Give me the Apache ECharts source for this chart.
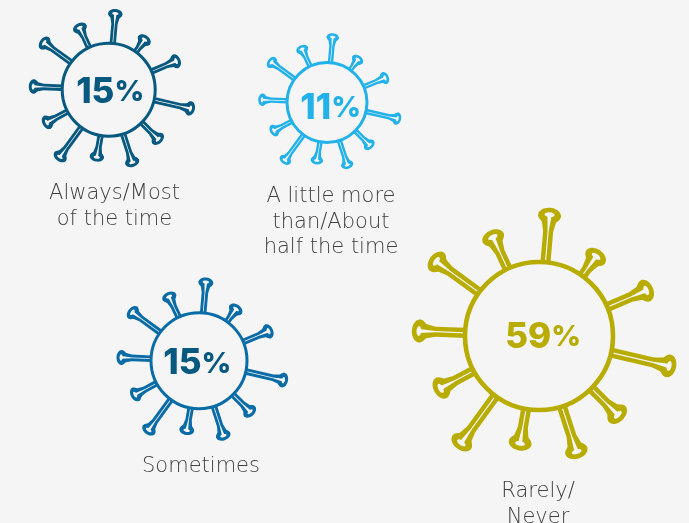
<!DOCTYPE html>
<html><head><meta charset="utf-8">
<style>html,body{margin:0;padding:0;background:#f5f5f5}#c{width:689px;height:523px}</style>
<script src="https://cdn.jsdelivr.net/npm/echarts@6/dist/echarts.min.js"></script>
</head><body><div id="c"></div>
<script>
const categories = ["Always/Most\nof the time", "A little more\nthan/About\nhalf the time", "Sometimes", "Rarely/\nNever"];
const shares = [15, 11, 15, 59];
const ringColors = ["#07597f", "#22b2e9", "#0a6ca6", "#b8ac00"];
const numberColors = ["#07597f", "#22b2e9", "#07597f", "#b8ac00"];
// virus layout (page px): centre x, centre y, radius, label centre x, label first-line y, number dx, number dy
const layout = [
  [108.7, 89.7, 46.5, 114.5, 193, 1.5, 2.7],
  [327, 102.5, 40, 331, 196, 3.7, 5.9],
  [199, 360.7, 48, 201, 465.5, -1.6, 3.2],
  [539, 336, 74, 538, 491, 4.2, 1.7]
];
// spikes: clockwise angle from up (deg), tip distance in radii
const spikeAngles = [5, 35.6, 67, 103, 135, 162, 190, 216, 242, 272.4, 306, 335];
const spikeLengths = [1.74, 1.42, 1.67, 1.9, 1.6, 1.74, 1.57, 1.88, 1.6, 1.72, 1.81, 1.57];
const BG = "#f5f5f5";

function spike(r, ang, len, color) {
  const R = r * len, hs = .068 * r, hh = .155 * r, neck = R - .32 * r, mid = R - .2 * r, head = R - .105 * r;
  return {
    type: "group", rotation: -ang * Math.PI / 180,
    children: [
      {type:"polygon", shape:{points:[[-hs,-r],[-hs,-neck],[-hs*1.4,-mid],[-hh,-head],[hh,-head],[hs*1.4,-mid],[hs,-neck],[hs,-r]]}, style:{fill:color}},
      {type:"ellipse", shape:{cx:0,cy:-head,rx:hh,ry:.105*r}, style:{fill:color}},
      {type:"polygon", shape:{points:[[-.008*r,-r],[-.008*r,-neck],[-.028*r,-head],[.028*r,-head],[.008*r,-neck],[.008*r,-r]]}, style:{fill:BG}},
      {type:"ellipse", shape:{cx:0,cy:-head-.01*r,rx:.068*r,ry:.032*r}, style:{fill:BG}}
    ]
  };
}

function renderItem(params, api) {
  const i = params.dataIndex, p = api.coord([api.value(0), api.value(1)]);
  const r = layout[i][2], col = ringColors[i], num = numberColors[i];
  const lp = api.coord([layout[i][3], layout[i][4]]);
  const spikes = spikeAngles.map((a, k) => spike(r, a, spikeLengths[k], col));
  return {
    type: "group",
    children: [
      {type:"group", x:p[0], y:p[1], children: spikes.concat([
        {type:"circle", shape:{cx:0,cy:0,r:r}, style:{fill:BG, stroke:col, lineWidth:Math.max(3,.062*r)}},
        {type:"text", x:layout[i][5], y:layout[i][6], style:{
          text:"{a|"+api.value(2)+"}{b|%}", align:"center", verticalAlign:"middle",
          rich:{a:{fontFamily:"Inter",fontWeight:800,fontSize:35,fill:num,color:num},
                b:{fontFamily:"Inter",fontWeight:800,fontSize:29,fill:num,color:num}}
        }}
      ])},
      {type:"text", x:lp[0], y:lp[1]-12, style:{
        text:categories[i], align:"center", verticalAlign:"top",
        fontFamily:"DejaVu Sans", fontWeight:200, fontSize:21, lineHeight:25.5, fill:"#404040"
      }}
    ]
  };
}

const chart = echarts.init(document.getElementById("c"), null, {renderer:"canvas"});
chart.setOption({
  animation:false, backgroundColor:BG,
  grid:{left:0,right:0,top:0,bottom:0},
  xAxis:{type:"value",min:0,max:689,show:false},
  yAxis:{type:"value",min:0,max:523,inverse:true,show:false},
  series:[{type:"custom", renderItem, clip:false,
    data: shares.map((v,i)=>[layout[i][0],layout[i][1],v])}]
});
</script></body></html>
